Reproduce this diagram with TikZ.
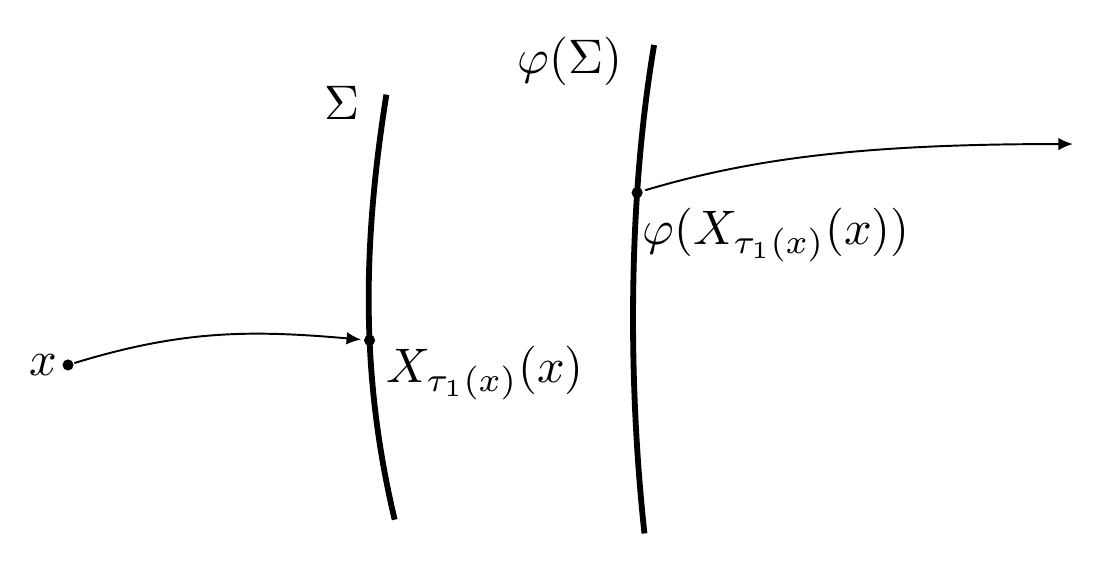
\documentclass[tikz,border=0pt]{standalone}
\usetikzlibrary{arrows.meta}
\tikzset{%
surf/.style={line width=1.2pt,black},
flow/.style={black,-{Latex[length=3pt,width=2.6pt]}},
pt/.style={circle,fill=black,inner sep=0pt,minimum size=2.3pt}
}
\begin{document}
\begin{tikzpicture}[x=1cm,y=1cm]
\useasboundingbox (0,0) rectangle (8.058,4.116);
%%
\draw[surf] (2.80,3.43) .. controls (2.62,2.30) and (2.62,1.36) .. (2.86,0.35)
            node[pt,pos=0.565] (Xt) {};
\draw[surf] (4.74,3.79) .. controls (4.55,2.67) and (4.55,1.36) .. (4.67,0.25)
            node[pt,pos=0.306] (phiXt) {};
%%
\node (Sig)    at (2.48,3.37) {$\Sigma$};
\node (phiSig) at (4.13,3.67) {$\varphi(\Sigma)$};
%%
\node[pt] (x) at (0.493,1.471) {};
\node[left,inner sep=2pt] (xlab) at (x.center) {$x$};
\node[anchor=north west,inner xsep=3.3pt,inner ysep=1pt] (Xlab) at (Xt.center) {$X_{\tau_1(x)}(x)$};
\node[anchor=north west,inner xsep=1pt,inner ysep=3pt] (phiXlab) at (phiXt.center) {$\varphi(X_{\tau_1(x)}(x))$};
\coordinate (End) at (7.775,3.072);
%%
\draw[flow] (x)     to[out=17,in=175] (Xt);
\draw[flow] (phiXt) .. controls +(0.87,0.26) and +(-1.45,0) .. (End);
\end{tikzpicture}
\end{document}
